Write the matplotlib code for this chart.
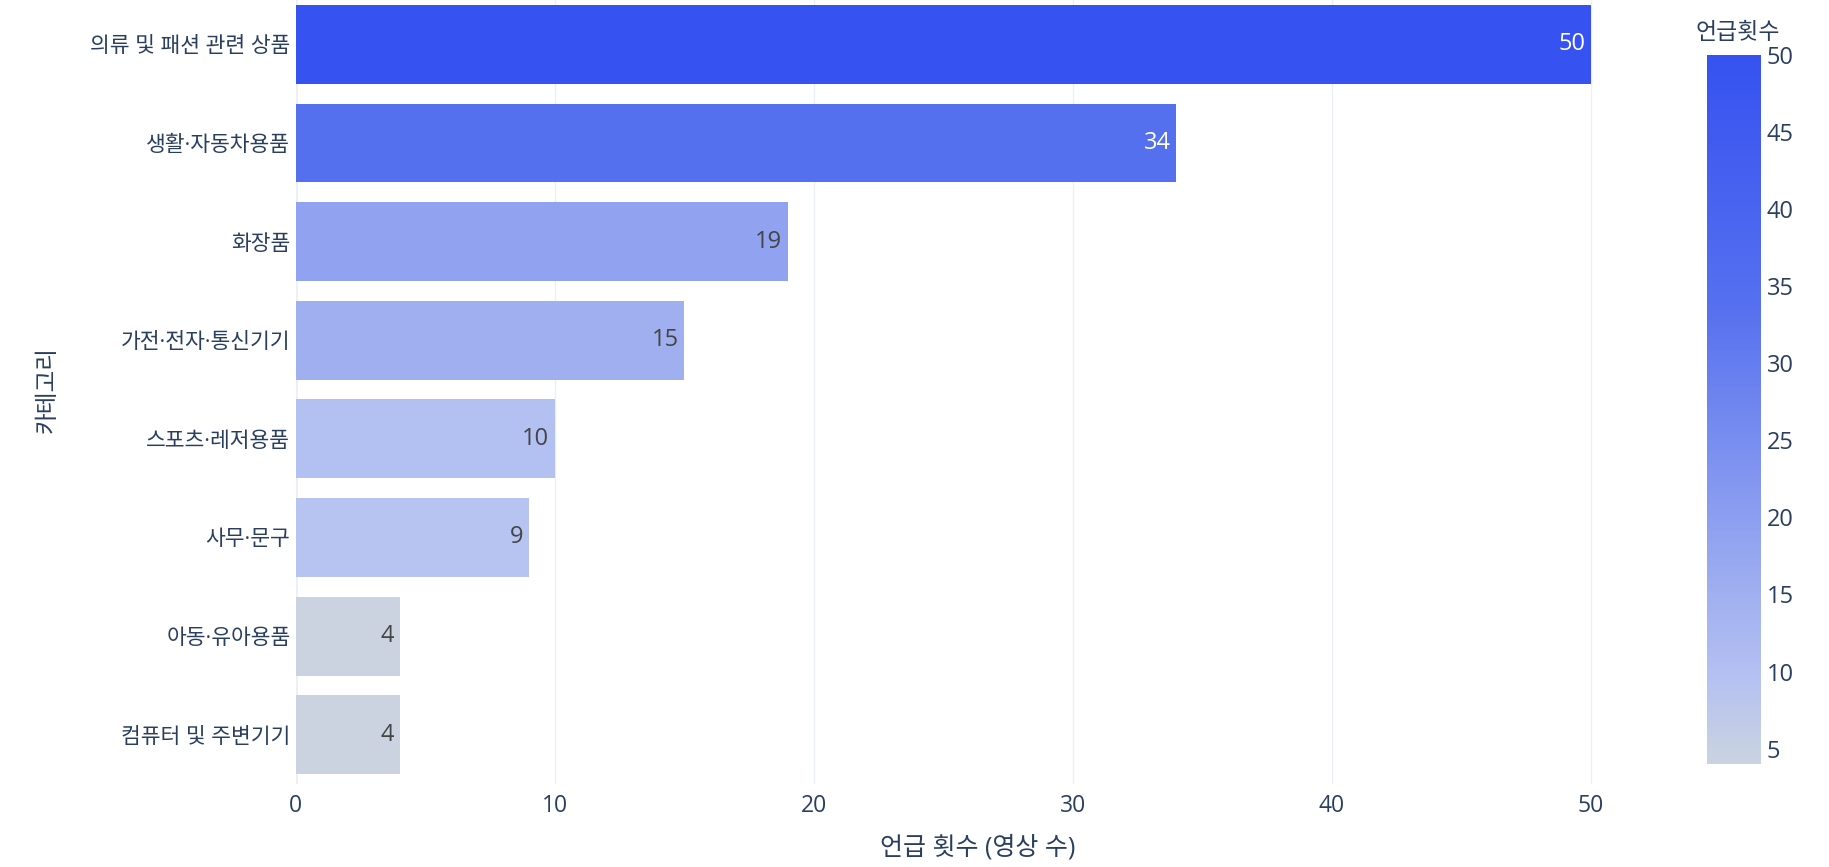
import numpy as np
import matplotlib.pyplot as plt
from matplotlib.colors import LinearSegmentedColormap, Normalize
from matplotlib.cm import ScalarMappable

plt.rcParams['font.family'] = ['Open Sans', 'Noto Sans CJK KR', 'DejaVu Sans']

# Mentions per product category (number of videos)
categories = ["의류 및 패션 관련 상품", "생활·자동차용품", "화장품", "가전·전자·통신기기",
              "스포츠·레저용품", "사무·문구", "아동·유아용품", "컴퓨터 및 주변기기"]
counts = [50, 34, 19, 15, 10, 9, 4, 4]

x_ticks = [0, 10, 20, 30, 40, 50]
cbar_ticks = [5, 10, 15, 20, 25, 30, 35, 40, 45, 50]

FONT_COLOR = '#2a3f5f'
GRID_COLOR = '#EBF0F8'

# light grey-blue to strong blue
cmap = LinearSegmentedColormap.from_list(
    'mentions', [(0.0, '#CAD3DF'), (0.12, '#B5C1F2'), (0.24, '#A0AFF0'),
                 (0.33, '#8FA1F0'), (0.65, '#5570EF'), (1.0, '#3652F0')])
norm = Normalize(vmin=min(counts), vmax=max(counts))

fig = plt.figure(figsize=(18.29, 8.67), dpi=100)
ax = fig.add_axes([0.1618, 0.0957, 0.7452, 0.910])

y = np.arange(len(categories))
colors = [cmap(norm(v)) for v in counts]
ax.barh(y, counts, height=0.8, color=colors, zorder=3)

for yi, v, c in zip(y, counts, colors):
    r, g, b, _ = c
    lum = 0.299 * r + 0.587 * g + 0.114 * b
    tc = 'white' if lum < 0.6 else '#444444'
    ax.annotate(str(v), (v, yi), xytext=(-4, 0), textcoords='offset points',
                ha='right', va='center', fontsize=17, color=tc, zorder=4)

ax.set_xlim(0, 52.63)
ax.set_ylim(len(categories) - 0.5, -0.5)
ax.set_yticks(y)
ax.set_yticklabels(categories)
ax.set_xticks(x_ticks)
ax.tick_params(axis='y', length=0, pad=4, labelsize=15.5, labelcolor=FONT_COLOR)
ax.tick_params(axis='x', length=0, pad=7, labelsize=16.5, labelcolor=FONT_COLOR)

for s in ax.spines.values():
    s.set_visible(False)
ax.grid(axis='x', color=GRID_COLOR, linewidth=1, zorder=0)
ax.axvline(0, color=GRID_COLOR, linewidth=2, zorder=1)

ax.set_xlabel("언급 횟수 (영상 수)", fontsize=18, color=FONT_COLOR, labelpad=12)
ax.set_ylabel("카테고리", fontsize=17, color=FONT_COLOR, labelpad=22)

# colour bar
cax = fig.add_axes([0.9333, 0.1188, 0.0295, 0.8178])
cb = fig.colorbar(ScalarMappable(norm=norm, cmap=cmap), cax=cax)
cb.outline.set_visible(False)
cb.set_ticks(cbar_ticks)
cax.tick_params(length=0, pad=4, labelsize=17, labelcolor=FONT_COLOR)
fig.text(0.9268, 0.962, "언급횟수", fontsize=16.5, color=FONT_COLOR, ha='left', va='center')

fig.savefig('out.png', dpi=100, facecolor='white')
